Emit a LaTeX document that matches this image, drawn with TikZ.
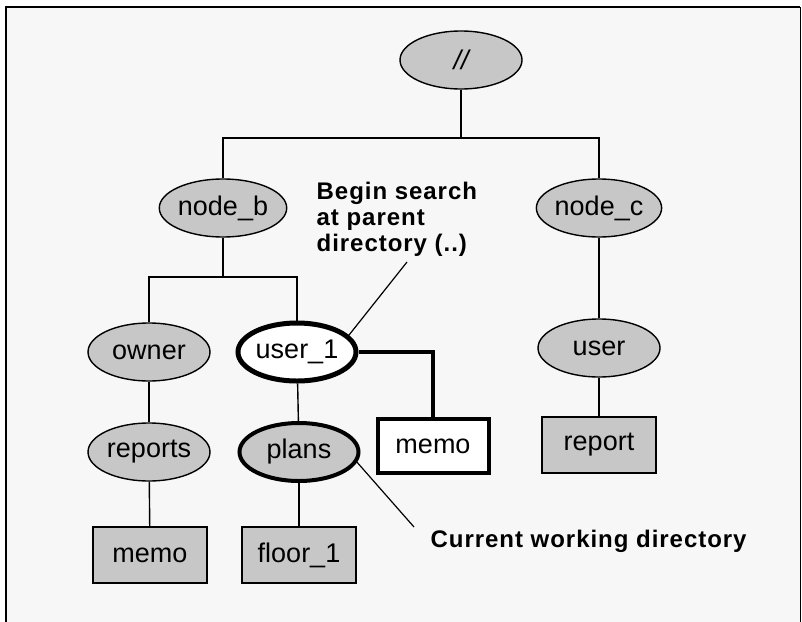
\documentclass[tikz,border=0pt]{standalone}
\usepackage{fontspec}
\setmainfont{Liberation Sans}
\newfontfamily\notefont[LetterSpace=4]{Liberation Sans}
\usetikzlibrary{positioning,shapes.geometric,math}
\tikzset{
    dirnode/.style={ellipse, draw, fill=black!22, line width=1.4pt,
        minimum width=122pt, minimum height=58pt, inner sep=0pt,
        font=\fontsize{27}{30}\selectfont},
    filenode/.style={rectangle, draw, fill=black!22, line width=1.4pt,
        minimum width=114pt, minimum height=56pt, inner sep=0pt,
        font=\fontsize{27}{30}\selectfont},
    herenode/.style={line width=5pt},
    hotline/.style={line width=3.6pt},
    note/.style={align=left, inner sep=0pt,
        font=\notefont\bfseries\fontsize{24}{26}\selectfont},
}

\begin{document}
\begin{tikzpicture}[
    x=1pt, y=-1pt,
    line width=1.4pt,
  ]

  \tikzmath{
    \pagew = 802; % width of the picture
    \pageh = 621; % height of the picture
  }

  \useasboundingbox (0,0) rectangle (\pagew,\pageh);

  % -----
  % Frame
  % -----
  \fill[black!3] (6,7) rectangle (800,640);
  \draw[line width=2pt] (6,640) -- (6,7) -- (800,7);
  \draw[line width=0.8pt] (800,7) -- (800,640);

  % -----------
  % Directories
  % -----------
  \node[dirnode] (root) at (461,60) {\itshape //};
  \node[dirnode] (nodeb) at (223,208) {node\_b};
  \node[dirnode] (nodec) at (599,208) {node\_c};
  \node[dirnode] (owner) at (149,352) {owner};
  \node[dirnode, herenode, fill=white, minimum width=118pt] (user1) at (297,352) {user\_1};
  \node[dirnode] (user) at (599,348) {user};
  \node[dirnode] (reports) at (149,452) {reports};
  \node[dirnode, line width=4pt, minimum width=119pt] (plans) at (299,452) {plans};

  % -----
  % Files
  % -----
  \node[filenode] (memoA) at (150,555) {memo};
  \node[filenode] (floor) at (299,555) {floor\_1};
  \node[filenode, line width=4pt, fill=white, minimum width=111pt, minimum height=54pt] (memoB) at (433,446) {memo};
  \node[filenode] (report) at (599,445) {report};

  % Tree lines
  \coordinate (fork) at (461,138);
  \coordinate (forkb) at (223,277);
  \draw (root) -- (fork);
  \draw (nodeb) |- (fork) -| (nodec);
  \draw (nodeb) -- (forkb);
  \draw (owner) |- (forkb) -| (user1);
  \draw (owner) -- (reports);
  \draw (reports) -- (memoA);
  \draw (user1) -- (plans);
  \draw (plans) -- (floor);
  \draw (nodec) -- (user);
  \draw (user) -- (report);
  \draw[hotline] (user1) -| (memoB);

  % Notes and their pointers
  \node[note, anchor=north west] (search) at (316,181) {Begin search\\at parent\\directory (..)};
  \node[note, anchor=base west] (cwd) at (430,547) {Current working directory};

  \coordinate (ptrA) at (407,262);
  \coordinate (ptrB) at (414,527);
  \draw[line width=1.2pt] (ptrA) -- (user1.18);
  \draw[line width=1.2pt] (plans.-10) -- (ptrB);

\end{tikzpicture}
\end{document}
